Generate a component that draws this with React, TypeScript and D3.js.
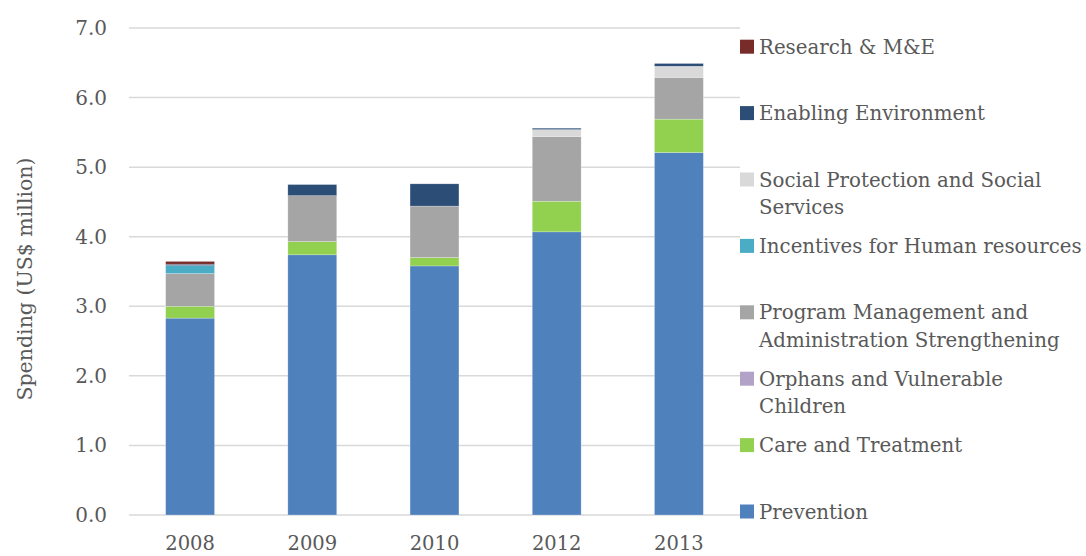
import * as d3 from 'd3';

const years = ['2008', '2009', '2010', '2012', '2013'];

// series in stacking order (bottom to top), values in US$ million
const seriesNames = [
  'Prevention',
  'Care and Treatment',
  'Orphans and Vulnerable Children',
  'Program Management and Administration Strengthening',
  'Incentives for Human resources',
  'Social Protection and Social Services',
  'Enabling Environment',
  'Research & M&E',
];
const prevention = [2.83, 3.74, 3.58, 4.07, 5.21];
const careTreatment = [0.17, 0.19, 0.12, 0.44, 0.48];
const orphans = [0, 0, 0, 0, 0];
const programMgmt = [0.47, 0.66, 0.74, 0.93, 0.6];
const incentives = [0.115, 0, 0, 0, 0];
const socialProtection = [0, 0, 0, 0.1, 0.16];
const enablingEnv = [0.02, 0.16, 0.32, 0.02, 0.04];
const research = [0.04, 0, 0, 0, 0];

const seriesColors = ['#4F81BD', '#92D050', '#B3A2C7', '#A5A5A5', '#4BACC6', '#D9D9D9', '#2C4D75', '#772C2A'];
const legendLines: string[][] = [
  ['Prevention'],
  ['Care and Treatment'],
  ['Orphans and Vulnerable', 'Children'],
  ['Program Management and', 'Administration Strengthening'],
  ['Incentives for Human resources'],
  ['Social Protection and Social', 'Services'],
  ['Enabling Environment'],
  ['Research & M&E'],
];
const yTicks = [0, 1, 2, 3, 4, 5, 6, 7];

const W = 1086;
const H = 556;
const font = '"DejaVu Serif", serif';
const textColor = '#595959';

export default function App() {
  const margin = { top: 28, right: 346, bottom: 41, left: 129 };
  const values = [prevention, careTreatment, orphans, programMgmt, incentives, socialProtection, enablingEnv, research];
  const rows = years.map((y, i) => {
    const r: any = { year: y };
    seriesNames.forEach((s, k) => (r[s] = values[k][i]));
    return r;
  });
  const stacked = d3.stack<any>().keys(seriesNames)(rows);

  const x = d3.scaleBand().domain(years).range([margin.left, W - margin.right]).paddingInner(0.6).paddingOuter(0.3);
  const y = d3.scaleLinear().domain([0, 7]).range([H - margin.bottom, margin.top]);

  const legendTop = 46.7;
  const legendStep = 66.4;
  const legendOrder = seriesNames.map((_, i) => i).reverse(); // Research on top

  return (
    <svg width={W} height={H} style={{ position: 'absolute', left: 0, top: 0, background: '#fff' }}>
      {yTicks.map(t => (
        <g key={t}>
          <line x1={margin.left} x2={W - margin.right} y1={y(t)} y2={y(t)} stroke="#D9D9D9" strokeWidth={1.5} />
          <text x={107} y={y(t)} dy="0.35em" textAnchor="end" fontFamily={font} fontSize={20} fill={textColor}>
            {t.toFixed(1)}
          </text>
        </g>
      ))}
      {stacked.map((layer, k) => (
        <g key={layer.key} fill={seriesColors[k]}>
          {layer.map((d, i) =>
            d[1] - d[0] > 0 ? (
              <rect
                key={i}
                x={x(years[i])}
                width={x.bandwidth()}
                y={y(d[1])}
                height={y(d[0]) - y(d[1])}
                stroke="#ffffff"
                strokeOpacity={0.4}
                strokeWidth={0.6}
              />
            ) : null
          )}
        </g>
      ))}
      {years.map(yr => (
        <text key={yr} x={(x(yr) as number) + x.bandwidth() / 2} y={550} textAnchor="middle" fontFamily={font} fontSize={19.5} fill={textColor}>
          {yr}
        </text>
      ))}
      <text
        transform={`translate(32,${279}) rotate(-90)`}
        textAnchor="middle"
        fontFamily={font}
        fontSize={20.5}
        fill={textColor}
      >
        Spending (US$ million)
      </text>
      {legendOrder.map((k, j) => {
        const cy = legendTop + j * legendStep;
        return (
          <g key={k}>
            <rect x={740} y={cy - 7} width={14} height={14} fill={seriesColors[k]} />
            {legendLines[k].map((ln, li) => (
              <text key={li} x={759} y={cy + 7 + li * 27.5} fontFamily={font} fontSize={19.8} fill={textColor}>
                {ln}
              </text>
            ))}
          </g>
        );
      })}
    </svg>
  );
}
